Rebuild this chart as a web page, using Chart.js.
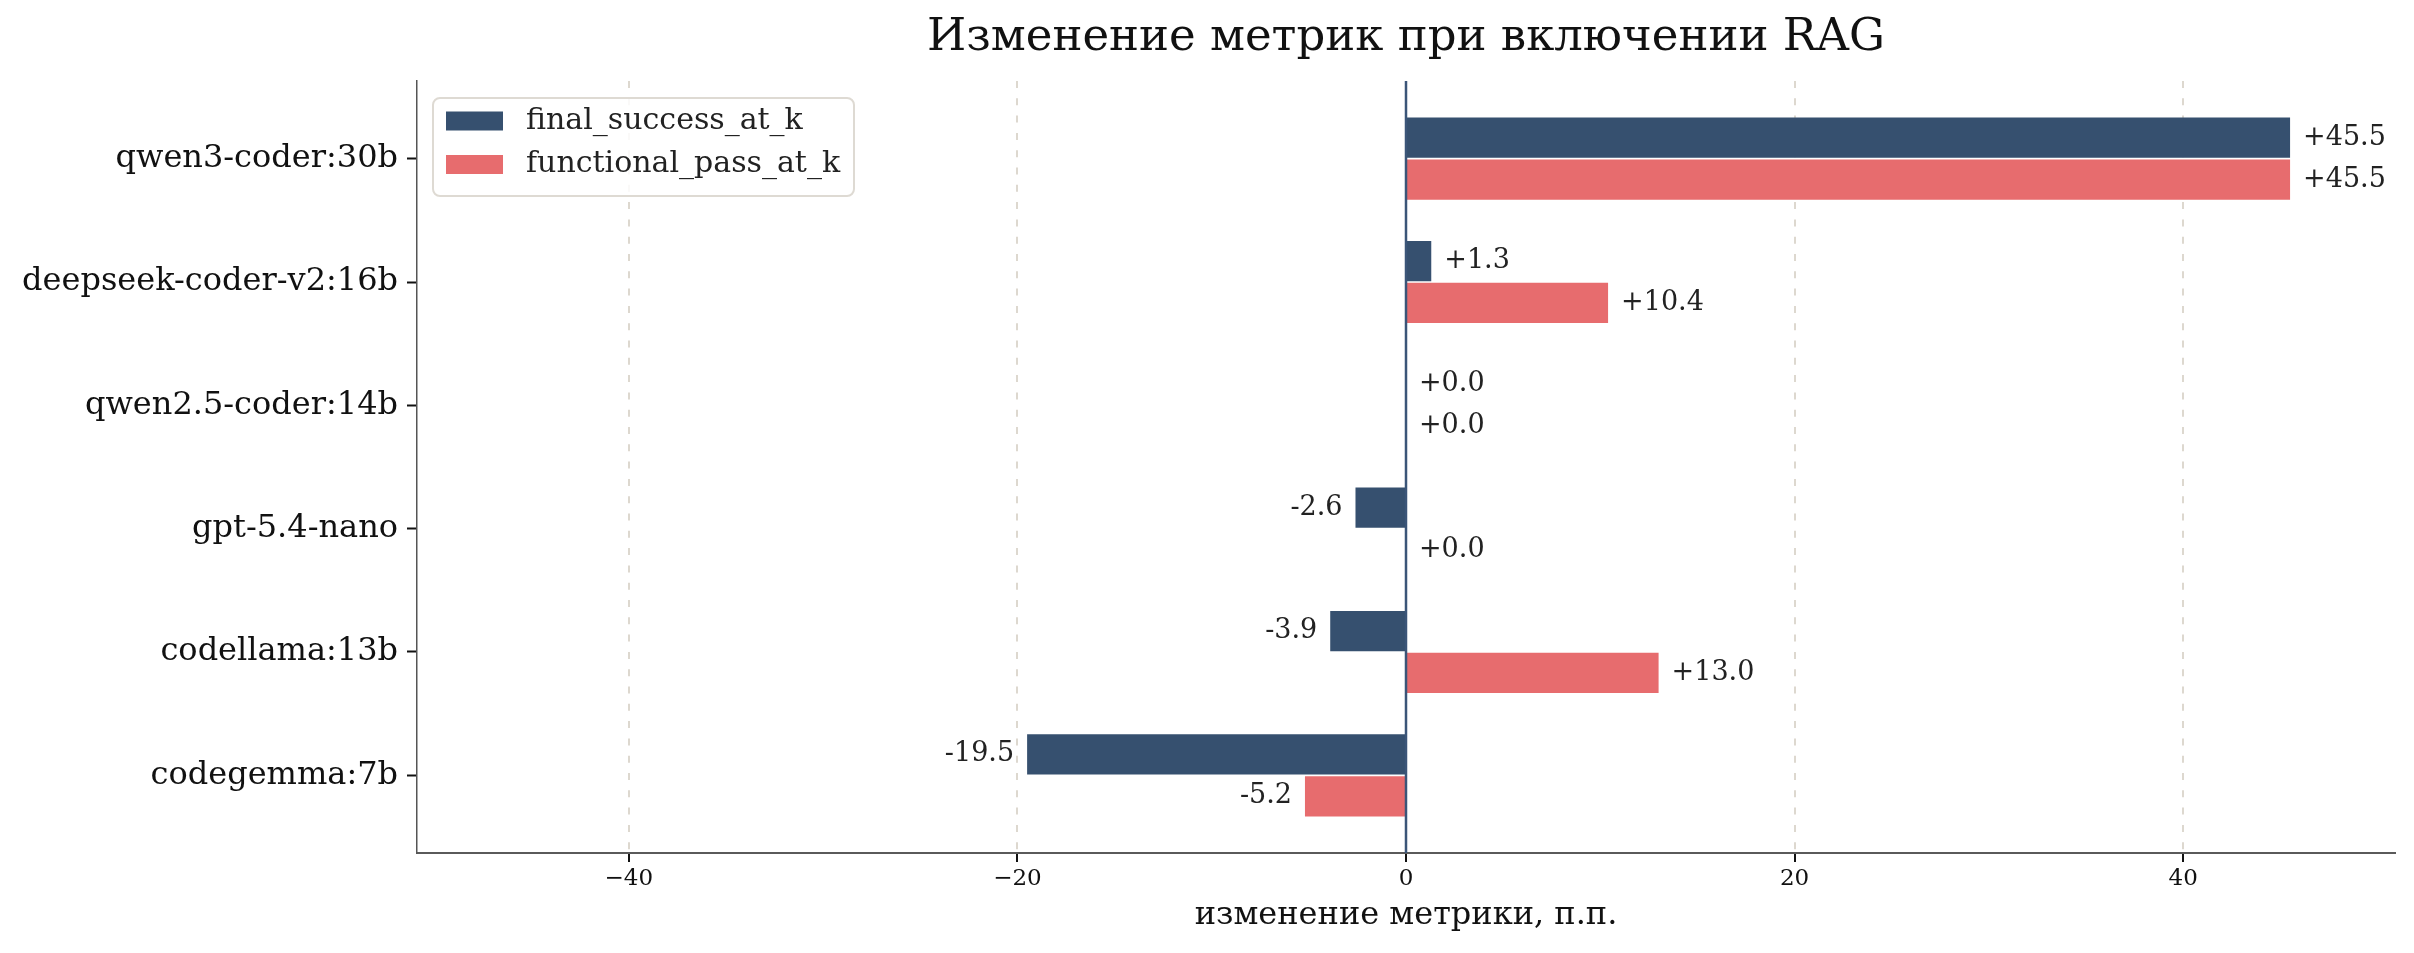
<!DOCTYPE html>
<html>
<head>
<meta charset="utf-8">
<script src="https://cdn.jsdelivr.net/npm/chart.js@4.4.1/dist/chart.umd.min.js"></script>
<style>
  html, body { margin: 0; padding: 0; background: #fff; }
  #wrap { width: 2414px; height: 953px; }
</style>
</head>
<body>
<div id="wrap"><canvas id="ragChart" width="2414" height="953"></canvas></div>
<script>
const models = ['qwen3-coder:30b', 'deepseek-coder-v2:16b', 'qwen2.5-coder:14b', 'gpt-5.4-nano', 'codellama:13b', 'codegemma:7b'];
const finalSuccess = [45.5, 1.3, 0.0, -2.6, -3.9, -19.5];
const functionalPass = [45.5, 10.4, 0.0, 0.0, 13.0, -5.2];
const xTicks = [-40, -20, 0, 20, 40];

const FONT = "'DejaVu Serif', serif";
const navy = '#36506f';
const coral = '#e76c6e';

// bar value labels next to the bar ends
const valueLabels = {
  id: 'valueLabels',
  afterDatasetsDraw(chart) {
    const ctx = chart.ctx;
    ctx.save();
    ctx.font = '27px ' + FONT;
    ctx.fillStyle = '#222';
    ctx.textBaseline = 'middle';
    chart.data.datasets.forEach((ds, di) => {
      chart.getDatasetMeta(di).data.forEach((bar, i) => {
        const v = ds.data[i].x;
        const txt = (v >= 0 ? '+' : '') + v.toFixed(1);
        if (v >= 0) {
          ctx.textAlign = 'left';
          ctx.fillText(txt, bar.x + 13, bar.y);
        } else {
          ctx.textAlign = 'right';
          ctx.fillText(txt, bar.x - 13, bar.y);
        }
      });
    });
    ctx.restore();
  }
};

// vertical line at zero
const zeroLine = {
  id: 'zeroLine',
  afterDatasetsDraw(chart) {
    const {ctx, chartArea, scales} = chart;
    const x = scales.x.getPixelForValue(0);
    ctx.save();
    ctx.strokeStyle = '#3b5578';
    ctx.lineWidth = 2.5;
    ctx.beginPath();
    ctx.moveTo(x, chartArea.top);
    ctx.lineTo(x, chartArea.bottom);
    ctx.stroke();
    ctx.restore();
  }
};

// matplotlib-like legend box in upper left corner
const boxLegend = {
  id: 'boxLegend',
  afterDraw(chart) {
    const {ctx, chartArea} = chart;
    const left = chartArea.left + 16, top = chartArea.top + 17;
    const w = 421, h = 98, r = 7;
    ctx.save();
    ctx.fillStyle = 'rgba(255,255,255,0.85)';
    ctx.strokeStyle = '#dedad3';
    ctx.lineWidth = 2;
    ctx.beginPath();
    ctx.roundRect(left, top, w, h, r);
    ctx.fill();
    ctx.stroke();
    ctx.font = '30px ' + FONT;
    ctx.textBaseline = 'middle';
    ctx.textAlign = 'left';
    chart.data.datasets.forEach((ds, i) => {
      const cy = top + 23 + i * 43.5;
      ctx.fillStyle = ds.backgroundColor;
      ctx.fillRect(left + 13, cy - 9.5, 57, 19);
      ctx.fillStyle = '#222';
      ctx.fillText(ds.label, left + 93, cy);
    });
    ctx.restore();
  }
};

new Chart(document.getElementById('ragChart'), {
  type: 'bar',
  data: {
    datasets: [{
      label: 'final_success_at_k',
      data: finalSuccess.map((v, i) => ({x: v, y: i})),
      backgroundColor: navy,
      categoryPercentage: 0.68,
      barPercentage: 0.96
    }, {
      label: 'functional_pass_at_k',
      data: functionalPass.map((v, i) => ({x: v, y: i})),
      backgroundColor: coral,
      categoryPercentage: 0.68,
      barPercentage: 0.96
    }]
  },
  options: {
    indexAxis: 'y',
    responsive: false,
    animation: false,
    layout: { padding: { left: 0, right: 19, top: 0, bottom: 0 } },
    plugins: {
      legend: { display: false },
      tooltip: { enabled: false },
      title: {
        display: true,
        text: 'Изменение метрик при включении RAG',
        fullSize: false,
        color: '#111',
        font: { family: FONT, size: 45, weight: 'normal' },
        padding: { top: 11, bottom: 16 }
      }
    },
    scales: {
      x: {
        type: 'linear',
        min: -50.9,
        max: 50.9,
        afterBuildTicks(scale) { scale.ticks = xTicks.map(v => ({value: v})); },
        afterFit(scale) { scale.height = 100; },
        ticks: {
          color: '#111',
          font: { family: FONT, size: 23 },
          padding: 3,
          callback: v => String(v).replace('-', '\u2212')
        },
        grid: {
          color: '#ddd8cf',
          lineWidth: 2,
          tickColor: '#111',
          tickBorderDash: [],
          tickLength: 9,
          tickWidth: 2
        },
        border: { display: true, color: '#5a5a5a', width: 2, dash: [7, 10.3] },
        title: {
          display: true,
          text: 'изменение метрики, п.п.',
          color: '#111',
          font: { family: FONT, size: 32 },
          padding: { top: 0, bottom: 18 }
        }
      },
      y: {
        type: 'linear',
        reverse: true,
        offset: false,
        min: -0.63,
        max: 5.63,
        afterBuildTicks(scale) { scale.ticks = models.map((m, i) => ({value: i})); },
        afterFit(scale) { scale.width = 417; },
        ticks: {
          color: '#111',
          font: { family: FONT, size: 32 },
          padding: 9,
          callback: (v) => models[v]
        },
        grid: {
          offset: false,
          drawOnChartArea: false,
          tickColor: '#111',
          tickLength: 10,
          tickWidth: 2
        },
        border: { display: true, color: '#555', width: 1.5 }
      }
    }
  },
  plugins: [valueLabels, zeroLine, boxLegend]
});
</script>
</body>
</html>
